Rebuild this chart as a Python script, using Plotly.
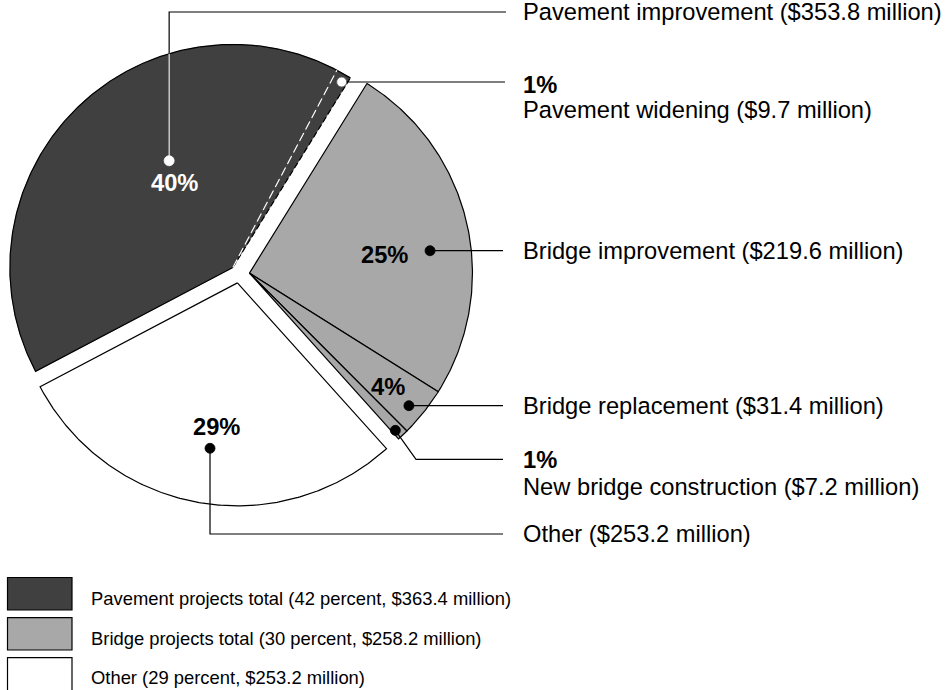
import numpy as np
import plotly.graph_objects as go

# ---------------- data ----------------
categories = ["Bridge improvement", "Bridge replacement", "New bridge construction",
              "Other", "Pavement improvement", "Pavement widening"]
values = [219.6, 31.4, 7.2, 253.2, 353.8, 9.7]          # $ million
groups = ["bridge", "bridge", "bridge", "other", "pavement", "pavement"]

legend_groups = ["pavement", "bridge", "other"]
legend_labels = ["Pavement projects total (42 percent, $363.4 million)",
                 "Bridge projects total (30 percent, $258.2 million)",
                 "Other (29 percent, $253.2 million)"]

# ---------------- style ----------------
W, H = 945, 690
CX, CY, R = 239.0, 274.0, 223.0
ROT = 31.8                      # first slice starts here (deg, clockwise from 12 o'clock)
EXPLODE = {"pavement": 9.0, "bridge": 10.5, "other": 9.0}
COLORS = {"pavement": "#404040", "bridge": "#a8a8a8", "other": "#ffffff"}
FONT = "Liberation Sans, Arial, Helvetica, sans-serif"
FS = 23.7

# per-slice placement of the leader dot / inside percent label (fraction of slice angle, fraction of radius)
dot_pos = {
    "Bridge improvement": (0.566, 0.816),
    "Bridge replacement": (0.587, 0.930),
    "New bridge construction": (0.70, 0.962),
    "Other": (0.493, 0.752),
    "Pavement improvement": (0.597, 0.557),
    "Pavement widening": (0.65, 0.964),
}
pct_pos = {
    "Pavement improvement": (0.570, 0.459),
    "Bridge improvement": (0.56, 0.613),
    "Bridge replacement": (0.553, 0.804),
    "Other": (0.484, 0.652),
}
# leader path after the dot: ("v", y) vertical, ("h", x) horizontal, ("p", x, y) point
leader_path = {
    "Pavement improvement": [("v", 12), ("h", 506)],
    "Pavement widening": [("h", 505)],
    "Bridge improvement": [("h", 503)],
    "Bridge replacement": [("h", 503)],
    "New bridge construction": [("p", 416, 459.3), ("h", 503)],
    "Other": [("v", 534), ("h", 503)],
}
label_x = 521
pct_in_column = {"Pavement widening": (85, 110), "New bridge construction": (460, 487)}

# ---------------- geometry ----------------
total = sum(values)
spans = [v / total * 360.0 for v in values]
starts = ROT + np.concatenate([[0], np.cumsum(spans)[:-1]])
ends = starts + np.array(spans)

g_start, g_end = {}, {}
for g, a0, a1 in zip(groups, starts, ends):
    g_start[g] = min(g_start.get(g, 1e9), a0)
    g_end[g] = max(g_end.get(g, -1e9), a1)

def pol(vx, vy, a, r):
    t = np.radians(a)
    return vx + r * np.sin(t), vy - r * np.cos(t)

vertex = {}
for g in g_start:
    mid = (g_start[g] + g_end[g]) / 2
    vertex[g] = pol(CX, CY, mid, EXPLODE[g])

def arc(vx, vy, a0, a1, n=None):
    n = n or max(int(abs(a1 - a0) * 2), 4)
    aa = np.linspace(a0, a1, n)
    return pol(vx, vy, aa, R)

fig = go.Figure()

# slice fills
for cat, g, a0, a1 in zip(categories, groups, starts, ends):
    vx, vy = vertex[g]
    ax_, ay_ = arc(vx, vy, a0, a1)
    xs = np.concatenate([[vx], ax_, [vx]])
    ys = np.concatenate([[vy], ay_, [vy]])
    outlined = g != "pavement"
    fig.add_trace(go.Scatter(x=xs, y=ys, mode="lines", fill="toself",
                             fillcolor=COLORS[g],
                             line=dict(color="black" if outlined else COLORS[g],
                                       width=1.2 if outlined else 0.5),
                             hoverinfo="skip", showlegend=False))

# pavement group outline
vx, vy = vertex["pavement"]
ax_, ay_ = arc(vx, vy, g_end["pavement"], g_start["pavement"])
fig.add_trace(go.Scatter(x=np.concatenate([ax_, [vx]]), y=np.concatenate([ay_, [vy]]),
                         mode="lines", line=dict(color="black", width=1.2),
                         hoverinfo="skip", showlegend=False))
ex, ey = pol(vx, vy, g_end["pavement"], R)
fig.add_trace(go.Scatter(x=[vx, ex], y=[vy, ey], mode="lines",
                         line=dict(color="black", width=1.2, dash="6px,3px"),
                         hoverinfo="skip", showlegend=False))
i_pw = categories.index("Pavement widening")
bx, by = pol(vx, vy, starts[i_pw], R)
fig.add_trace(go.Scatter(x=[vx, bx], y=[vy, by], mode="lines",
                         line=dict(color="white", width=1.2, dash="9px,4px"),
                         hoverinfo="skip", showlegend=False))

# leader lines, dots, labels
annotations = []
for cat, g, a0, a1, v in zip(categories, groups, starts, ends, values):
    vx, vy = vertex[g]
    f, rf = dot_pos[cat]
    dx, dy = pol(vx, vy, a0 + f * (a1 - a0), rf * R)
    px, py = [dx], [dy]
    for step in leader_path[cat]:
        if step[0] == "v":
            px.append(px[-1]); py.append(step[1])
        elif step[0] == "h":
            px.append(step[1]); py.append(py[-1])
        else:
            px.append(step[1]); py.append(step[2])
    fig.add_trace(go.Scatter(x=px, y=py, mode="lines", line=dict(color="black", width=1.2),
                             hoverinfo="skip", showlegend=False))
    dark = g == "pavement"
    if cat == "Pavement improvement":
        # white part of the leader inside the dark slice
        yi = vy - np.sqrt(R ** 2 - (dx - vx) ** 2)
        fig.add_trace(go.Scatter(x=[dx, dx], y=[dy, yi], mode="lines",
                                 line=dict(color="white", width=1.2),
                                 hoverinfo="skip", showlegend=False))
    fig.add_trace(go.Scatter(x=[dx], y=[dy], mode="markers",
                             marker=dict(size=10, color="white" if dark else "black",
                                         line=dict(color="#555555" if cat == "Pavement widening" else ("white" if dark else "black"), width=0.8)),
                             hoverinfo="skip", showlegend=False))
    pct = round(v / total * 100)
    text = f"{cat} (${v:.1f} million)"
    if cat in pct_in_column:
        y1, y2 = pct_in_column[cat]
        annotations.append(dict(x=label_x, y=y1, text=f"<b>{pct}%</b>", xanchor="left", yanchor="middle",
                                showarrow=False, font=dict(size=FS, color="black", family=FONT)))
        annotations.append(dict(x=label_x, y=y2, text=text, xanchor="left", yanchor="middle",
                                showarrow=False, font=dict(size=FS, color="black", family=FONT)))
    else:
        annotations.append(dict(x=label_x, y=py[-1], text=text, xanchor="left", yanchor="middle",
                                showarrow=False, font=dict(size=FS, color="black", family=FONT)))
    if cat in pct_pos:
        f2, r2 = pct_pos[cat]
        lx, ly = pol(vx, vy, a0 + f2 * (a1 - a0), r2 * R)
        annotations.append(dict(x=lx, y=ly, text=f"<b>{pct}%</b>", xanchor="center", yanchor="middle",
                                showarrow=False,
                                font=dict(size=FS, color="white" if dark else "black", family=FONT)))

# legend (drawn)
shapes = []
leg_rows = [(577.5, 610.0, 598), (617.7, 650.0, 638), (657.7, 692.0, 677)]
for g, lab, (y0, y1, ty) in zip(legend_groups, legend_labels, leg_rows):
    shapes.append(dict(type="rect", xref="x", yref="y", x0=7.5, x1=72, y0=y0, y1=y1,
                       fillcolor=COLORS[g], line=dict(color="black", width=1.2)))
    annotations.append(dict(x=89, y=ty, text=lab, xanchor="left", yanchor="middle", showarrow=False,
                            font=dict(size=18.4, color="black", family=FONT)))

fig.update_layout(
    width=W, height=H, margin=dict(l=0, r=0, t=0, b=0, pad=0),
    paper_bgcolor="white", plot_bgcolor="white",
    xaxis=dict(range=[0, W], visible=False, fixedrange=True),
    yaxis=dict(range=[H, 0], visible=False, fixedrange=True),
    shapes=shapes, annotations=annotations, showlegend=False,
)
fig.write_html("out.html")
